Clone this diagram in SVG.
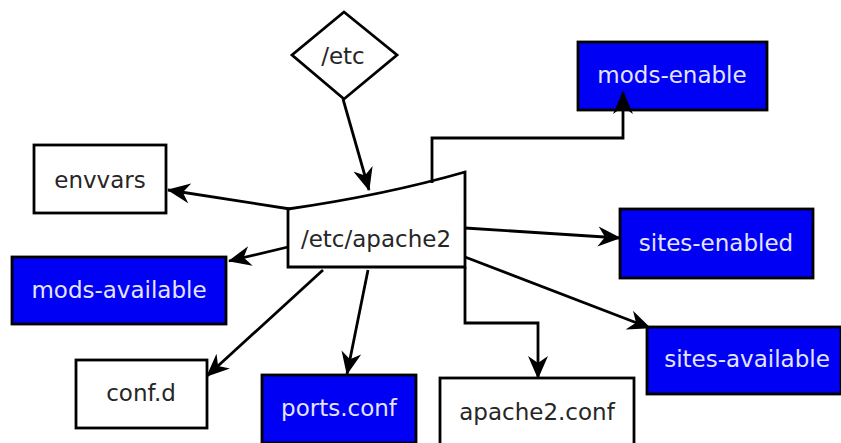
<svg xmlns="http://www.w3.org/2000/svg" width="841" height="443" viewBox="0 0 841 443">
<style>
.box{stroke:#000;stroke-width:2.8}
.w{fill:#fff}
.b{fill:#0000f5}
.t{font-family:"DejaVu Sans",sans-serif;font-size:23px;text-anchor:middle;dominant-baseline:central}
.dk{fill:#262626}
.lt{fill:#e4e4ff}
.c{fill:none;stroke:#000;stroke-width:2.8;marker-end:url(#ah)}
</style>
<defs>
<marker id="ah" markerUnits="userSpaceOnUse" markerWidth="24" markerHeight="22" viewBox="0 0 24 22" refX="22" refY="11" orient="auto">
<path d="M0,1 L23,11 L0,21 L7,11 z" fill="#000"/>
</marker>
</defs>
<rect width="841" height="443" fill="#fff"/>
<g id="etc">
<polygon class="box w" points="344,12 397,55 344,99 292,55"/>
<text class="t dk" x="343" y="56">/etc</text>
</g>
<g id="apache2">
<path class="box w" d="M288,209 Q385,195 465,172 L465,267 L288,267 Z"/>
<text class="t dk" x="376" y="239">/etc/apache2</text>
</g>
<g id="envvars">
<rect class="box w" x="34" y="145" width="132" height="68"/>
<text class="t dk" x="100" y="180">envvars</text>
</g>
<g id="mods-available">
<rect class="box b" x="12" y="257" width="214" height="67"/>
<text class="t lt" x="119" y="290">mods-available</text>
</g>
<g id="conf-d">
<rect class="box w" x="76" y="360" width="131" height="68"/>
<text class="t dk" x="141" y="393">conf.d</text>
</g>
<g id="ports-conf">
<rect class="box b" x="262" y="375" width="154" height="68"/>
<text class="t lt" x="339" y="408">ports.conf</text>
</g>
<g id="apache2-conf">
<rect class="box w" x="440" y="378" width="194" height="68"/>
<text class="t dk" x="537" y="412">apache2.conf</text>
</g>
<g id="sites-available">
<rect class="box b" x="647" y="327" width="194" height="67"/>
<text class="t lt" x="747" y="359">sites-available</text>
</g>
<g id="sites-enabled">
<rect class="box b" x="620" y="209" width="193" height="69"/>
<text class="t lt" x="716" y="243">sites-enabled</text>
</g>
<g id="mods-enable">
<rect class="box b" x="578" y="42" width="189" height="68"/>
<text class="t lt" x="672" y="75">mods-enable</text>
</g>
<g id="connectors">
<path class="c" d="M343,99 L369,190"/>
<path class="c" d="M290,209 L168,190"/>
<path class="c" d="M288,247 L229,261"/>
<path class="c" d="M323,270 L207,376"/>
<path class="c" d="M368,270 L347,374"/>
<path class="c" d="M465,267 L465,323 L538,323 L538,378"/>
<path class="c" d="M465,257 L650,328"/>
<path class="c" d="M465,228 L620,238"/>
<path class="c" d="M432,183 L432,138 L623,138 L623,92"/>
</g>
</svg>
